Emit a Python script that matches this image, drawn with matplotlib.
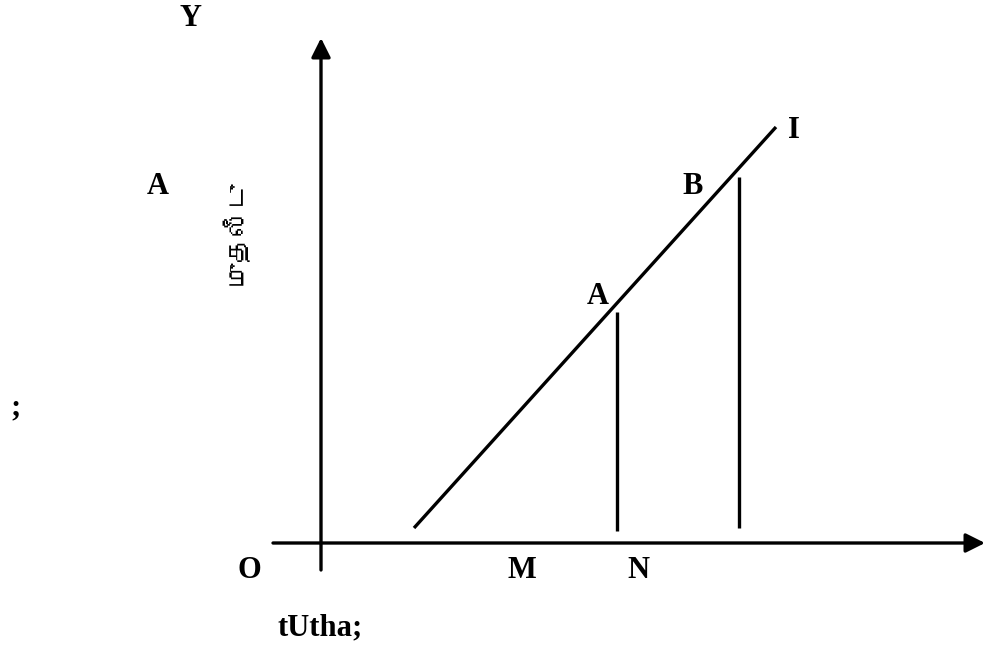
import matplotlib
matplotlib.use('Agg')
import matplotlib.pyplot as plt
from matplotlib import font_manager
from matplotlib.ft2font import FT2Font

# diagram drawn in image-pixel units (y grows downward)
origin = (321, 543)
x_axis_start, x_axis_tip = 273, 985
y_axis_bottom, y_axis_tip = 570, 38

# the rising line through A and B up to I
line_x = [414, 776]
line_y = [528, 127]

# verticals dropped from A and B
drop_x = [617, 739]
drop_top = [312, 177]
drop_bottom = [531, 528]

labels = ['Y', 'A', ';', 'O', 'M', 'N', 'tUtha;', 'A', 'B', 'I']
label_x = [191, 158, 16, 249, 522, 638, 320, 598, 693, 794]
label_y = [18, 187, 408, 571, 571, 571, 628, 296, 186, 131]

tamil_label = 'முதலீடு'


def tamil_font():
	for f in font_manager.fontManager.ttflist:
		try:
			if 0x0BAE in FT2Font(f.fname).get_charmap():
				return f.name
		except Exception:
			pass
	return 'DejaVu Sans'


fig = plt.figure(figsize=(9.93, 6.46), dpi=100)
ax = fig.add_axes([0, 0, 1, 1])
ax.set_xlim(0, 993)
ax.set_ylim(646, 0)
ax.axis('off')

lw = 2.4
# axes with arrow heads
ax.annotate('', xy=(x_axis_tip, origin[1]), xytext=(x_axis_start, origin[1]),
	arrowprops=dict(arrowstyle='-|>', lw=lw, color='black', mutation_scale=29, shrinkA=0, shrinkB=0))
ax.annotate('', xy=(origin[0], y_axis_tip), xytext=(origin[0], y_axis_bottom),
	arrowprops=dict(arrowstyle='-|>', lw=lw, color='black', mutation_scale=29, shrinkA=0, shrinkB=0))

ax.plot(line_x, line_y, color='black', lw=lw, solid_capstyle='butt')
ax.vlines(drop_x, drop_top, drop_bottom, color='black', lw=lw)

for t, x, y in zip(labels, label_x, label_y):
	ax.text(x, y, t, family='Liberation Serif', weight='bold', fontsize=22,
		ha='center', va='center')

ax.text(234, 232, tamil_label, family=[tamil_font(), 'DejaVu Sans'], fontsize=19,
	rotation=90, ha='center', va='center')

fig.savefig('out.png', dpi=100)
